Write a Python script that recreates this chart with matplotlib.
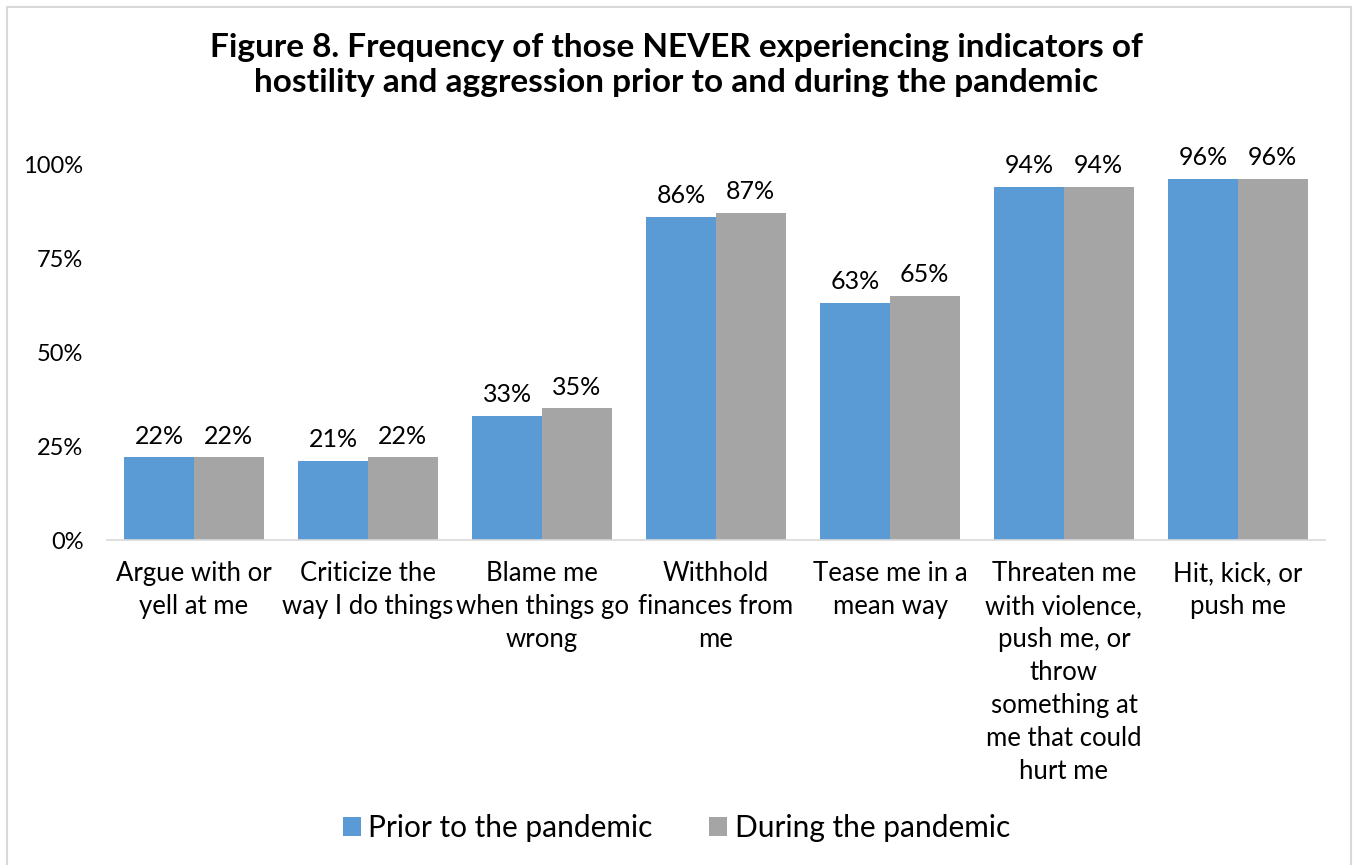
import matplotlib.pyplot as plt
import matplotlib.patches as mpatches
import numpy as np

plt.rcParams['font.family'] = ['Lato', 'DejaVu Sans']

categories = ['Argue with or\nyell at me',
              'Criticize the\nway I do things',
              'Blame me\nwhen things go\nwrong',
              'Withhold\nfinances from\nme',
              'Tease me in a\nmean way',
              'Threaten me\nwith violence,\npush me, or\nthrow\nsomething at\nme that could\nhurt me',
              'Hit, kick, or\npush me']
prior = [22, 21, 33, 86, 63, 94, 96]
during = [22, 22, 35, 87, 65, 94, 96]
series_names = ['Prior to the pandemic', 'During the pandemic']
y_ticks = [0, 25, 50, 75, 100]

blue = '#5B9BD5'
grey = '#A5A5A5'

fig = plt.figure(figsize=(13.53, 8.65), dpi=100)
ax = fig.add_axes([0.0791, 0.3757, 0.9002, 0.4347])

x = np.arange(len(categories))
w = 0.4
b1 = ax.bar(x - w / 2, prior, w, color=blue, label=series_names[0])
b2 = ax.bar(x + w / 2, during, w, color=grey, label=series_names[1])

for bars, vals in [(b1, prior), (b2, during)]:
    for r, v in zip(bars, vals):
        ax.annotate('%d%%' % v, (r.get_x() + r.get_width() / 2, v),
                    xytext=(0, 7), textcoords='offset points',
                    ha='center', va='bottom', fontsize=18)

ax.set_xlim(-0.5, len(categories) - 0.5)
ax.set_ylim(0, 100)
ax.set_yticks(y_ticks, ['%d%%' % t for t in y_ticks], fontsize=17)
ax.set_xticks(x, categories, fontsize=18.5, linespacing=1.4)
ax.tick_params(length=0)
ax.tick_params(axis='x', pad=15)
ax.tick_params(axis='y', pad=17)

for s in ['top', 'right', 'left']:
    ax.spines[s].set_visible(False)
ax.spines['bottom'].set_color('#D9D9D9')
ax.spines['bottom'].set_linewidth(1.2)

fig.text(0.5, 0.925, 'Figure 8. Frequency of those NEVER experiencing indicators of\n'
         'hostility and aggression prior to and during the pandemic',
         ha='center', va='center', fontsize=24, fontweight='bold', linespacing=1.22)

fig.legend(handles=[b1, b2], loc='center', bbox_to_anchor=(0.5, 0.043), ncol=2,
           frameon=False, fontsize=21.5, handlelength=0.6, handleheight=0.6,
           handletextpad=0.25, columnspacing=1.9)

fig.patches.append(mpatches.Rectangle((0.0052, -0.02), 0.9933, 1.0119, transform=fig.transFigure,
                                      fill=False, edgecolor='#D9D9D9', linewidth=1.5))

fig.savefig('out.png', dpi=100)
